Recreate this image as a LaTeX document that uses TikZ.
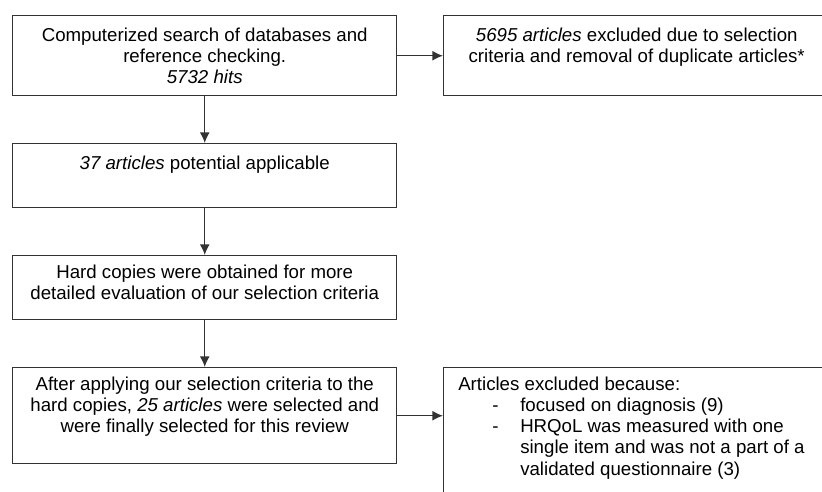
\documentclass[tikz,border=0pt]{standalone}
\usepackage{fontspec}
\setmainfont{Liberation Sans}
\usetikzlibrary{positioning,arrows.meta,calc}

\tikzset{
    box/.style={draw=black!80, line width=1.1pt, inner sep=0pt, anchor=north west,
        minimum width=288pt},
    boxtext/.style={inner sep=0pt, anchor=north, align=center,
        font=\fontsize{14}{15.8}\selectfont},
    flow/.style={draw=black!80, line width=1.1pt, -{Latex[length=8pt,width=7.5pt]}}
}

\newcommand{\dashitem}[1]{\makebox[46.5pt][l]{\hspace*{25.5pt}-}#1}
\newcommand{\hangline}[1]{\hspace*{46.5pt}#1}

\begin{document}
\begin{tikzpicture}[x=0.75pt, y=-0.75pt]
    \useasboundingbox (0,0) rectangle (822,492);
    \clip (0,0) rectangle (822,492);

    % left column
    \node[box, minimum height=60pt] (search) at (12,15) {};
    \node[box, minimum height=48pt] (potential) at (12,143) {};
    \node[box, minimum height=48pt] (hardcopies) at (12,255) {};
    \node[box, minimum height=72pt] (selected) at (12,367) {};

    % right column
    \node[box, minimum width=289.5pt, minimum height=60pt] (excluded) at (443,15) {};
    \node[box, minimum width=289.5pt, minimum height=115pt] (reasons) at (443,367) {};

    % texts
    \node[boxtext] (searchtext) at ($(search.north)+(0,13)$)
        {Computerized search of databases and\\ reference checking.\\ \textit{5732 hits}};
    \node[boxtext] (excludedtext) at ($(excluded.north)+(0,13)$)
        {\textit{5695 articles} excluded due to selection\\ criteria and removal of duplicate articles*};
    \node[boxtext] (potentialtext) at ($(potential.north)+(0,13)$)
        {\textit{37 articles} potential applicable};
    \node[boxtext] (hardcopiestext) at ($(hardcopies.north)+(0,10)$)
        {Hard copies were obtained for more\\ detailed evaluation of our selection criteria};
    \node[boxtext] (selectedtext) at ($(selected.north)+(0,10)$)
        {After applying our selection criteria to the\\ hard copies, \textit{25 articles} were selected and\\ were finally selected for this review};
    \node[boxtext, anchor=north west, align=left] (reasonstext) at ($(reasons.north west)+(15,10)$)
        {Articles excluded because:\\
         \dashitem{focused on diagnosis (9)}\\
         \dashitem{HRQoL was measured with one}\\
         \hangline{single item and was not a part of a}\\
         \hangline{validated questionnaire (3)}};

    % connectors
    \draw[flow] (search) -- (potential);
    \draw[flow] (potential) -- (hardcopies);
    \draw[flow] (hardcopies) -- (selected);
    \draw[flow] (search.east) -- (excluded.west);
    \draw[flow] (selected.east) -- (reasons.west |- selected.east);
\end{tikzpicture}
\end{document}
